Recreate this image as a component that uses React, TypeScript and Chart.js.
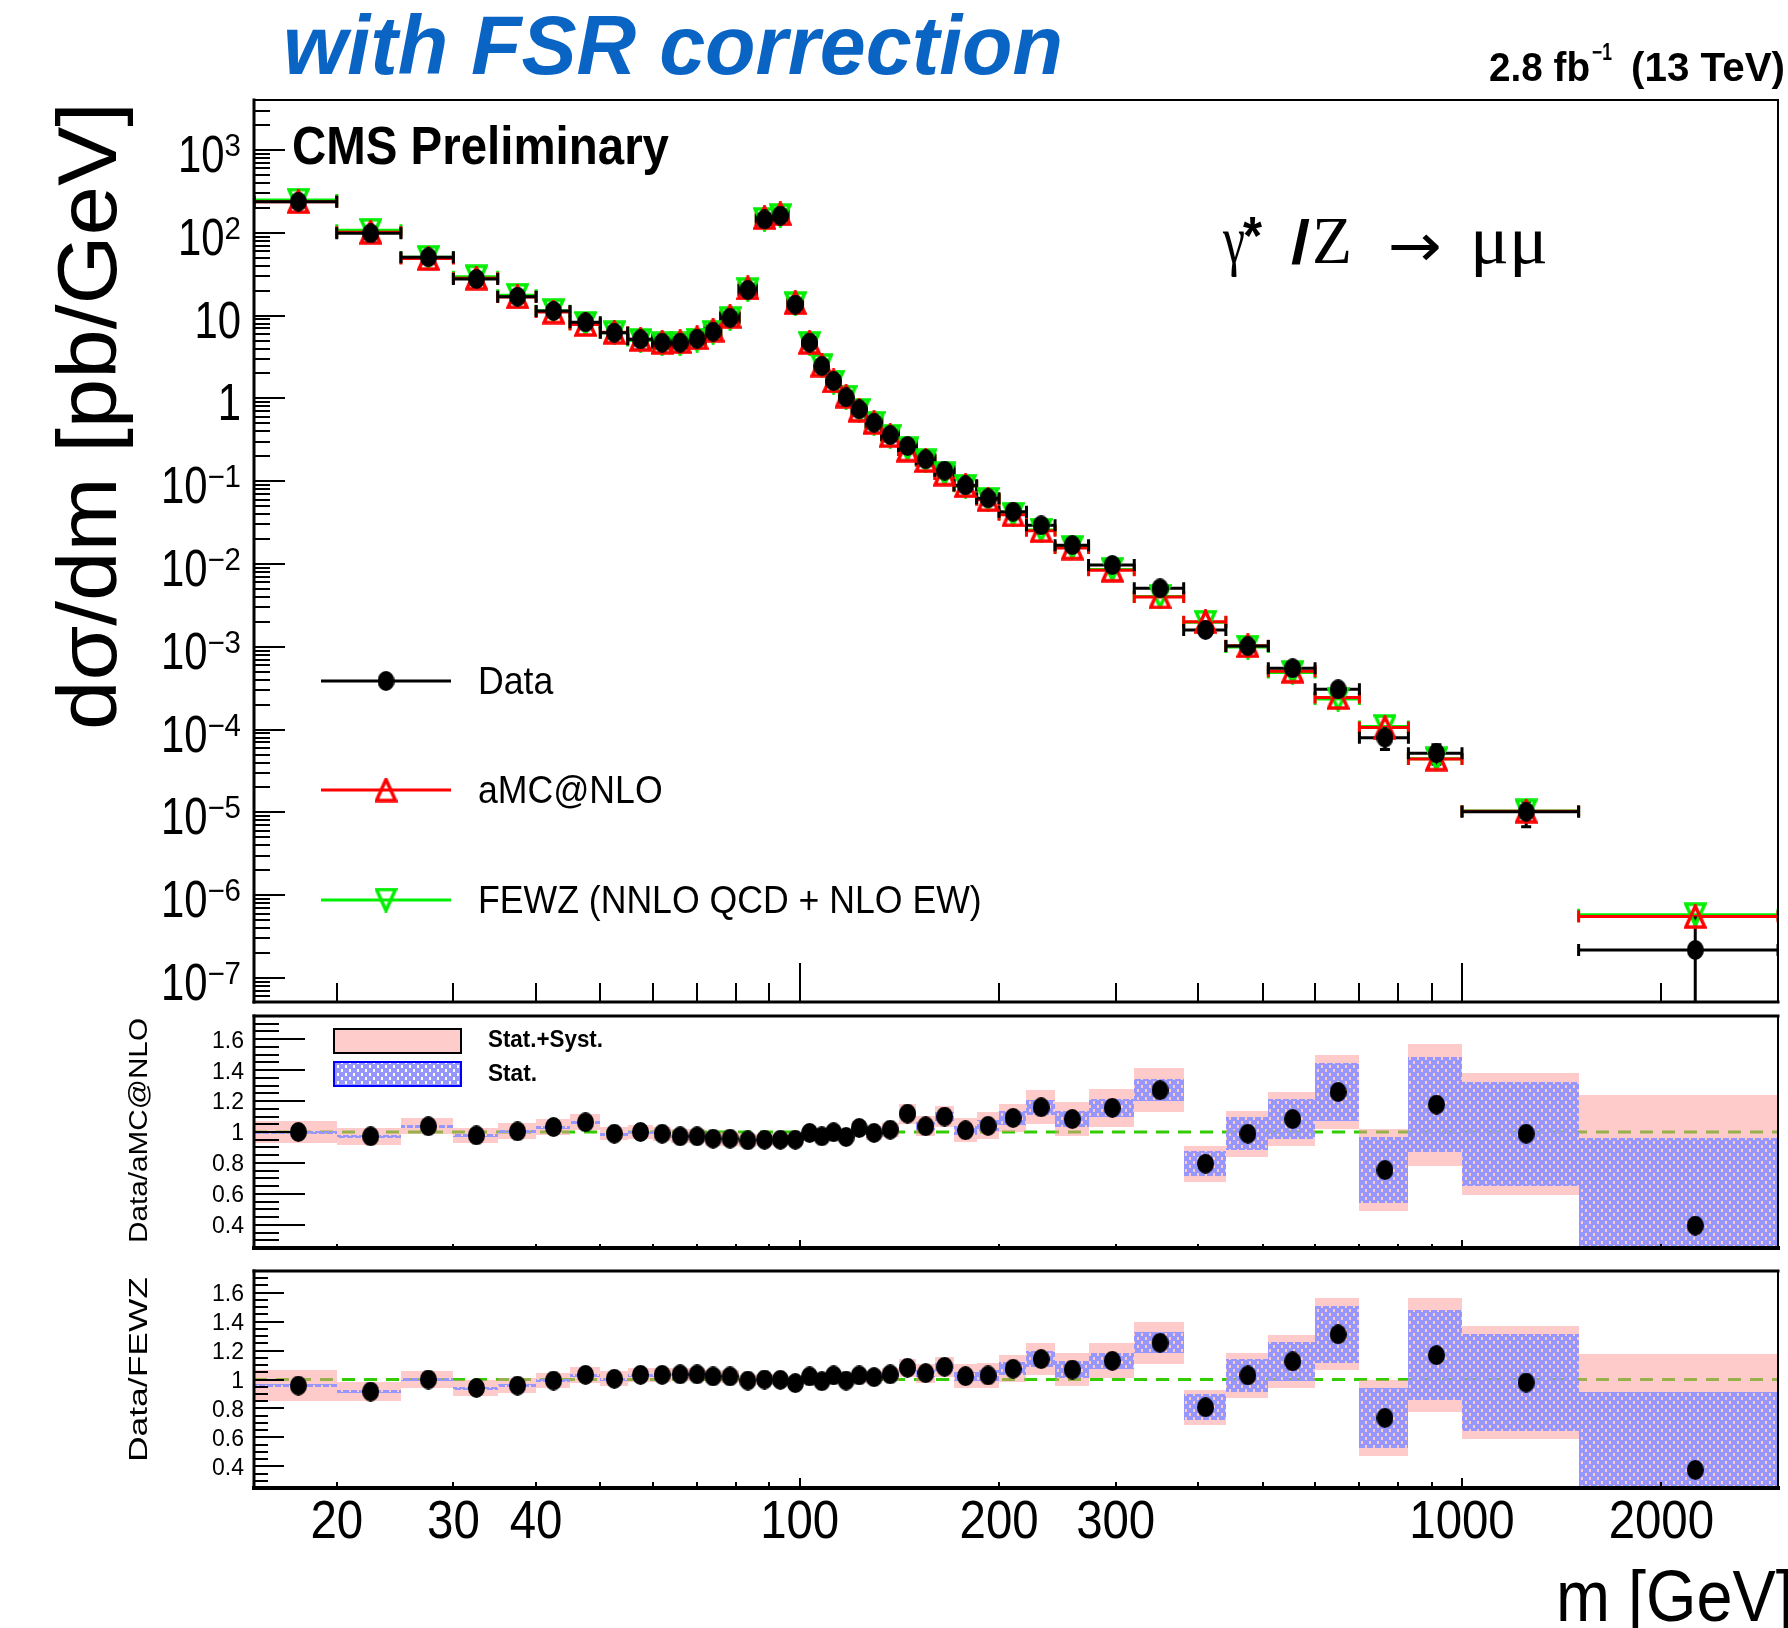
import React, { useEffect, useRef } from "react";
import { Chart, registerables } from "chart.js";

Chart.register(...registerables);

// ---------------- data ----------------
const binEdges = [15, 20, 25, 30, 35, 40, 45, 50, 55, 60, 64, 68, 72, 76, 81, 86, 91, 96, 101, 106, 110, 115, 120, 126, 133, 141, 150, 160, 171, 185, 200, 220, 243, 273, 320, 380, 440, 510, 600, 700, 830, 1000, 1500, 3000];

// measured dsigma/dm [pb/GeV]
const crossSection = [238, 98.6, 50.6, 27.7, 16.9, 11.4, 8.3, 6.22, 5.17, 4.71, 4.71, 5.25, 6.4, 9.4, 20.4, 145, 161, 13.6, 4.73, 2.46, 1.62, 1.03, 0.738, 0.509, 0.361, 0.266, 0.184, 0.134, 0.0891, 0.0621, 0.0428, 0.0293, 0.0169, 0.00972, 0.00508, 0.0016, 0.00102, 0.00055, 0.000307, 8.0e-5, 5.18e-5, 1.02e-5, 2.18e-7];

// Data / aMC@NLO
const ratioAmcNlo = [1.0, 0.972, 1.037, 0.978, 1.004, 1.032, 1.063, 0.989, 1.0, 0.989, 0.972, 0.972, 0.957, 0.957, 0.946, 0.95, 0.95, 0.95, 0.994, 0.972, 0.998, 0.968, 1.026, 0.994, 1.015, 1.119, 1.037, 1.1, 1.011, 1.04, 1.091, 1.16, 1.084, 1.156, 1.27, 0.795, 0.989, 1.084, 1.259, 0.754, 1.177, 0.989, 0.395];
const totUncAmcNlo = [0.07, 0.054, 0.052, 0.051, 0.052, 0.052, 0.052, 0.043, 0.045, 0.045, 0.045, 0.045, 0.045, 0.045, 0.04, 0.04, 0.04, 0.04, 0.04, 0.04, 0.04, 0.04, 0.045, 0.045, 0.045, 0.065, 0.065, 0.07, 0.077, 0.087, 0.093, 0.11, 0.112, 0.125, 0.142, 0.116, 0.148, 0.174, 0.239, 0.268, 0.395, 0.395, 0.841];
const statUncAmcNlo = [0.008, 0.008, 0.008, 0.008, 0.008, 0.008, 0.008, 0.006, 0.005, 0.005, 0.005, 0.005, 0.005, 0.005, 0.005, 0.005, 0.005, 0.005, 0.005, 0.005, 0.005, 0.005, 0.012, 0.014, 0.016, 0.025, 0.025, 0.028, 0.03, 0.035, 0.043, 0.049, 0.054, 0.056, 0.07, 0.081, 0.106, 0.128, 0.186, 0.212, 0.309, 0.337, 0.566];

// Data / FEWZ
const ratioFewz = [0.958, 0.917, 1.0, 0.942, 0.958, 0.993, 1.032, 1.005, 1.032, 1.032, 1.035, 1.035, 1.021, 1.021, 0.993, 1.0, 0.998, 0.975, 1.021, 0.988, 1.028, 0.993, 1.028, 1.016, 1.035, 1.081, 1.044, 1.088, 1.023, 1.028, 1.074, 1.141, 1.069, 1.129, 1.254, 0.808, 1.028, 1.125, 1.312, 0.735, 1.168, 0.979, 0.375];
const totUncFewz = [0.11, 0.069, 0.061, 0.054, 0.052, 0.052, 0.053, 0.052, 0.046, 0.046, 0.046, 0.046, 0.046, 0.046, 0.04, 0.04, 0.04, 0.04, 0.04, 0.04, 0.04, 0.04, 0.045, 0.045, 0.045, 0.063, 0.065, 0.07, 0.082, 0.084, 0.092, 0.111, 0.112, 0.122, 0.144, 0.121, 0.155, 0.182, 0.248, 0.262, 0.393, 0.393, 0.798];
const statUncFewz = [0.008, 0.008, 0.008, 0.008, 0.008, 0.008, 0.008, 0.006, 0.005, 0.005, 0.005, 0.005, 0.005, 0.005, 0.005, 0.005, 0.005, 0.005, 0.005, 0.005, 0.005, 0.005, 0.012, 0.014, 0.016, 0.025, 0.025, 0.028, 0.03, 0.035, 0.045, 0.055, 0.058, 0.054, 0.072, 0.09, 0.112, 0.135, 0.197, 0.208, 0.309, 0.335, 0.537];

const xTickLabels = [20, 30, 40, 100, 200, 300, 1000, 2000];
const mainYExponents = [-7, -6, -5, -4, -3, -2, -1, 0, 1, 2, 3];
const ratioYTickLabels = [0.4, 0.6, 0.8, 1, 1.2, 1.4, 1.6];
const legendEntries = ["Data", "aMC@NLO", "FEWZ (NNLO QCD + NLO EW)"];

// derived
const binCenters = binEdges.slice(0, -1).map((lo, i) => (lo + binEdges[i + 1]) / 2);
const amcXsec = crossSection.map((v, i) => v / ratioAmcNlo[i]);
const fewzXsec = crossSection.map((v, i) => v / ratioFewz[i]);
const dataRelStat = statUncAmcNlo.map((s, i) => s / ratioAmcNlo[i]);

// ---------------- layout ----------------
const W = 1788;
const H = 1628;
const X_MIN = 15;
const X_MAX = 3000;
const PLOT_LEFT = 254;
const PLOT_RIGHT = 1786;
const MAIN = { top: 100, bottom: 1002, yMin: 5.13e-8, yMax: 4018 };
const R1 = { top: 1016, bottom: 1248, yMin: 0.25, yMax: 1.75 };
const R2 = { top: 1271, bottom: 1488, yMin: 0.25, yMax: 1.75 };

const SANS = '"Liberation Sans", Arial, Helvetica, sans-serif';
const SERIF = '"Liberation Serif", "Times New Roman", serif';
const GREEN = "#00ee00";
const RED = "#ff0000";

type TxtOpt = {
  size: number;
  bold?: boolean;
  italic?: boolean;
  family?: string;
  color?: string;
  align?: "left" | "right" | "center";
  sx?: number;
  width?: number;
  rot?: number;
};

function txt(ctx: CanvasRenderingContext2D, s: string, x: number, y: number, o: TxtOpt) {
  ctx.save();
  ctx.font = `${o.italic ? "italic " : ""}${o.bold ? "bold " : ""}${o.size}px ${o.family || SANS}`;
  ctx.fillStyle = o.color || "#000";
  ctx.textBaseline = "alphabetic";
  ctx.textAlign = "left";
  const w = ctx.measureText(s).width;
  const sx = o.width ? o.width / w : o.sx ?? 1;
  ctx.translate(x, y);
  if (o.rot) ctx.rotate(o.rot);
  ctx.scale(sx, 1);
  let dx = 0;
  if (o.align === "right") dx = -w;
  else if (o.align === "center") dx = -w / 2;
  ctx.fillText(s, dx, 0);
  ctx.restore();
  return w * sx;
}

function textWidth(ctx: CanvasRenderingContext2D, s: string, size: number, sx: number, bold = false) {
  ctx.save();
  ctx.font = `${bold ? "bold " : ""}${size}px ${SANS}`;
  const w = ctx.measureText(s).width * sx;
  ctx.restore();
  return w;
}

function makeEllipse(w: number, h: number, color: string) {
  const c = document.createElement("canvas");
  c.width = w;
  c.height = h;
  const g = c.getContext("2d")!;
  g.fillStyle = color;
  g.beginPath();
  g.ellipse(w / 2, h / 2, w / 2, h / 2, 0, 0, Math.PI * 2);
  g.fill();
  return c;
}

function makeTriangle(w: number, h: number, color: string, up: boolean) {
  const c = document.createElement("canvas");
  c.width = w + 4;
  c.height = h + 4;
  const g = c.getContext("2d")!;
  g.strokeStyle = color;
  g.lineWidth = 3.5;
  g.beginPath();
  if (up) {
    g.moveTo(2 + w / 2, 2);
    g.lineTo(2 + w, 2 + h);
    g.lineTo(2, 2 + h);
  } else {
    g.moveTo(2, 2);
    g.lineTo(2 + w, 2);
    g.lineTo(2 + w / 2, 2 + h);
  }
  g.closePath();
  g.stroke();
  return c;
}

function makeStatTile() {
  const c = document.createElement("canvas");
  c.width = 8;
  c.height = 8;
  const g = c.getContext("2d")!;
  g.fillStyle = "rgb(150,150,255)";
  g.fillRect(0, 0, 8, 8);
  g.clearRect(1, 1, 2, 3);
  g.clearRect(5, 5, 2, 3);
  return c;
}

function clipArea(ctx: CanvasRenderingContext2D, a: any) {
  ctx.beginPath();
  ctx.rect(a.left, a.top, a.right - a.left, a.bottom - a.top);
  ctx.clip();
}

function drawFrame(ctx: CanvasRenderingContext2D, a: any, lwLeft: number, lwBottom: number, lwTop: number, lwRight: number) {
  ctx.save();
  ctx.strokeStyle = "#000";
  ctx.lineCap = "square";
  const seg = (x0: number, y0: number, x1: number, y1: number, lw: number) => {
    ctx.lineWidth = lw;
    ctx.beginPath();
    ctx.moveTo(x0, y0);
    ctx.lineTo(x1, y1);
    ctx.stroke();
  };
  seg(a.left, a.top, a.right, a.top, lwTop);
  seg(a.right, a.top, a.right, a.bottom, lwRight);
  seg(a.left, a.bottom, a.right, a.bottom, lwBottom);
  seg(a.left, a.top, a.left, a.bottom, lwLeft);
  ctx.restore();
}

function drawXTicks(ctx: CanvasRenderingContext2D, a: any, x: any, majorLen: number, minorLen: number) {
  ctx.save();
  ctx.strokeStyle = "#000";
  ctx.lineWidth = 2;
  for (let e = 1; e <= 3; e++) {
    for (let k = 1; k <= 9; k++) {
      const v = k * Math.pow(10, e);
      if (v <= X_MIN || v >= X_MAX) continue;
      const px = Math.round(x.getPixelForValue(v));
      const len = k === 1 ? majorLen : minorLen;
      ctx.beginPath();
      ctx.moveTo(px, a.bottom);
      ctx.lineTo(px, a.bottom - len);
      ctx.stroke();
    }
  }
  ctx.restore();
}

// ---------------- main panel ----------------
function mainPlugin(dot: HTMLCanvasElement, triUp: HTMLCanvasElement, triDown: HTMLCanvasElement) {
  return {
    id: "mainDecor",
    beforeDatasetsDraw(chart: any) {
      const { ctx, chartArea: a, scales } = chart;
      const x = scales.x;
      const y = scales.y;
      ctx.save();
      clipArea(ctx, a);
      ctx.lineWidth = 3;
      const series: [number[], string][] = [
        [fewzXsec, GREEN],
        [amcXsec, RED],
        [crossSection, "#000"],
      ];
      for (const [vals, col] of series) {
        ctx.strokeStyle = col;
        vals.forEach((v, i) => {
          const x0 = x.getPixelForValue(binEdges[i]);
          const x1 = x.getPixelForValue(binEdges[i + 1]);
          const py = y.getPixelForValue(v);
          ctx.beginPath();
          ctx.moveTo(x0, py);
          ctx.lineTo(x1, py);
          ctx.moveTo(x0, py - 6);
          ctx.lineTo(x0, py + 6);
          ctx.moveTo(x1, py - 6);
          ctx.lineTo(x1, py + 6);
          ctx.stroke();
        });
      }
      ctx.strokeStyle = "#000";
      crossSection.forEach((v, i) => {
        const r = dataRelStat[i];
        const px = x.getPixelForValue(binCenters[i]);
        const yt = y.getPixelForValue(v * (1 + r));
        const lo = v * (1 - r);
        const yb = lo > 0 ? y.getPixelForValue(lo) : a.bottom + 20;
        ctx.beginPath();
        ctx.moveTo(px, yt);
        ctx.lineTo(px, yb);
        ctx.moveTo(px - 5, yt);
        ctx.lineTo(px + 5, yt);
        ctx.moveTo(px - 5, yb);
        ctx.lineTo(px + 5, yb);
        ctx.stroke();
      });
      ctx.restore();
    },
    afterDraw(chart: any) {
      const { ctx, chartArea: a, scales } = chart;
      const x = scales.x;
      const y = scales.y;
      drawFrame(ctx, a, 3, 3, 2, 2);
      drawXTicks(ctx, a, x, 39, 19);
      // y ticks
      ctx.save();
      ctx.strokeStyle = "#000";
      ctx.lineWidth = 2;
      for (let e = -8; e <= 3; e++) {
        for (let k = 1; k <= 9; k++) {
          const v = k * Math.pow(10, e);
          if (v < MAIN.yMin || v > MAIN.yMax) continue;
          const py = Math.round(y.getPixelForValue(v));
          ctx.beginPath();
          ctx.moveTo(a.left, py);
          ctx.lineTo(a.left + (k === 1 ? 31 : 16), py);
          ctx.stroke();
        }
      }
      ctx.restore();
      // y labels
      const labRight = 241;
      for (const e of mainYExponents) {
        const py = y.getPixelForValue(Math.pow(10, e));
        if (e === 0) {
          txt(ctx, "1", labRight, py + 22, { size: 51, sx: 0.82, align: "right" });
        } else if (e === 1) {
          txt(ctx, "10", labRight, py + 22, { size: 51, sx: 0.82, align: "right" });
        } else {
          const sup = e < 0 ? "\u2212" + String(-e) : String(e);
          const sw = textWidth(ctx, sup, 31, 0.95);
          txt(ctx, sup, labRight, py + 6, { size: 31, sx: 0.95, align: "right" });
          txt(ctx, "10", labRight - sw, py + 22, { size: 51, sx: 0.82, align: "right" });
        }
      }
      // y title
      txt(ctx, "d\u03c3/dm [pb/GeV]", 116, 730, { size: 84, rot: -Math.PI / 2, width: 628 });
      // header texts
      txt(ctx, "with FSR correction", 283, 74, { size: 84, bold: true, italic: true, color: "#0a64c4", width: 780 });
      txt(ctx, "2.8 fb", 1489, 81, { size: 40, bold: true, width: 101 });
      txt(ctx, "\u22121", 1592, 60, { size: 23, bold: true, width: 20 });
      txt(ctx, "(13 TeV)", 1631, 81, { size: 40, bold: true, width: 154 });
      txt(ctx, "CMS Preliminary", 292, 164, { size: 54.5, bold: true, width: 377 });
      // process label
      txt(ctx, "\u03b3", 1223, 263, { size: 68, family: SERIF, width: 22 });
      txt(ctx, "*", 1243, 254, { size: 54, bold: true, width: 19 });
      txt(ctx, "/", 1291, 263, { size: 62, bold: true, width: 19 });
      txt(ctx, "Z", 1312, 263, { size: 68, family: SERIF, width: 40 });
      txt(ctx, "\u2192", 1388, 266, { size: 60, family: '"DejaVu Sans", sans-serif', width: 54 });
      txt(ctx, "\u03bc\u03bc", 1470, 263, { size: 68, family: SERIF, width: 78 });
      // legend
      const rows = [681, 790, 900];
      const marks = [dot, triUp, triDown];
      const cols = ["#000", RED, GREEN];
      rows.forEach((ry, i) => {
        ctx.save();
        ctx.strokeStyle = cols[i];
        ctx.lineWidth = 3;
        ctx.beginPath();
        ctx.moveTo(321, ry);
        ctx.lineTo(451, ry);
        ctx.stroke();
        ctx.restore();
        const m = marks[i];
        ctx.drawImage(m, 386 - m.width / 2, ry - m.height / 2);
        txt(ctx, legendEntries[i], 478, ry + 13, { size: 39.6, sx: 0.9 });
      });
    },
  };
}

// ---------------- ratio panels ----------------
type RatioCfg = {
  panel: { top: number; bottom: number; yMin: number; yMax: number };
  ratio: number[];
  tot: number[];
  stat: number[];
  title: string;
  titleStart: number;
  titleLen: number;
  legend: boolean;
  yMajor: number;
  yMinor: number;
  xMajor: number;
  xMinor: number;
  xLabels: boolean;
};

function ratioPlugin(cfg: RatioCfg, tile: HTMLCanvasElement) {
  return {
    id: "ratioDecor",
    beforeDatasetsDraw(chart: any) {
      const { ctx, chartArea: a, scales } = chart;
      const x = scales.x;
      const y = scales.y;
      ctx.save();
      clipArea(ctx, a);
      const y1 = y.getPixelForValue(1);
      ctx.strokeStyle = "#33cc00";
      ctx.lineWidth = 3;
      ctx.setLineDash([13, 9]);
      ctx.beginPath();
      ctx.moveTo(a.left, y1);
      ctx.lineTo(a.right, y1);
      ctx.stroke();
      ctx.setLineDash([]);
      ctx.fillStyle = "rgba(255,150,150,0.5)";
      cfg.ratio.forEach((r, i) => {
        const x0 = Math.round(x.getPixelForValue(binEdges[i]));
        const x1 = Math.round(x.getPixelForValue(binEdges[i + 1]));
        const yt = Math.round(y.getPixelForValue(r + cfg.tot[i]));
        const yb = Math.round(y.getPixelForValue(r - cfg.tot[i]));
        ctx.fillRect(x0, yt, x1 - x0, yb - yt);
      });
      const pat = ctx.createPattern(tile, "repeat");
      if (pat) ctx.fillStyle = pat;
      cfg.ratio.forEach((r, i) => {
        const x0 = Math.round(x.getPixelForValue(binEdges[i]));
        const x1 = Math.round(x.getPixelForValue(binEdges[i + 1]));
        let yt = Math.round(y.getPixelForValue(r + cfg.stat[i]));
        let yb = Math.round(y.getPixelForValue(r - cfg.stat[i]));
        if (yb - yt < 3) {
          const c = (yt + yb) / 2;
          yt = Math.round(c - 1.5);
          yb = yt + 3;
        }
        ctx.fillRect(x0, yt, x1 - x0, yb - yt);
      });
      ctx.restore();
    },
    afterDraw(chart: any) {
      const { ctx, chartArea: a, scales } = chart;
      const x = scales.x;
      const y = scales.y;
      drawFrame(ctx, a, 3, 4, 3, 2);
      drawXTicks(ctx, a, x, cfg.xMajor, cfg.xMinor);
      ctx.save();
      ctx.strokeStyle = "#000";
      ctx.lineWidth = 2;
      for (let i = 5; i <= 35; i++) {
        const v = i * 0.05;
        if (v < cfg.panel.yMin - 1e-9 || v > cfg.panel.yMax + 1e-9) continue;
        const major = i % 4 === 0;
        const py = Math.round(y.getPixelForValue(v));
        ctx.beginPath();
        ctx.moveTo(a.left, py);
        ctx.lineTo(a.left + (major ? cfg.yMajor : cfg.yMinor), py);
        ctx.stroke();
      }
      ctx.restore();
      for (const v of ratioYTickLabels) {
        const py = y.getPixelForValue(v);
        txt(ctx, String(v), 244, py + 8.4, { size: 23, align: "right" });
      }
      txt(ctx, cfg.title, 147, cfg.titleStart, { size: 26, rot: -Math.PI / 2, width: cfg.titleLen });
      if (cfg.legend) {
        ctx.save();
        ctx.fillStyle = "rgb(255,204,204)";
        ctx.fillRect(334, 1029, 127, 24);
        ctx.strokeStyle = "#000";
        ctx.lineWidth = 2;
        ctx.strokeRect(334, 1029, 127, 24);
        const pat = ctx.createPattern(tile, "repeat");
        if (pat) ctx.fillStyle = pat;
        ctx.fillRect(334, 1062, 127, 24);
        ctx.strokeStyle = "#0000ff";
        ctx.strokeRect(334, 1062, 127, 24);
        ctx.restore();
        txt(ctx, "Stat.+Syst.", 488, 1047, { size: 23, bold: true, width: 115 });
        txt(ctx, "Stat.", 488, 1081, { size: 23, bold: true, width: 49 });
      }
      if (cfg.xLabels) {
        for (const v of xTickLabels) {
          txt(ctx, String(v), x.getPixelForValue(v), 1538, { size: 54.5, sx: 0.87, align: "center" });
        }
        txt(ctx, "m [GeV]", 1556, 1621, { size: 72, sx: 0.9 });
      }
    },
  };
}

function baseOptions(panel: { top: number; bottom: number; yMin: number; yMax: number }, logY: boolean) {
  return {
    responsive: false,
    animation: false as const,
    devicePixelRatio: 1,
    events: [] as any[],
    layout: { padding: { left: PLOT_LEFT, right: W - PLOT_RIGHT, top: panel.top, bottom: H - panel.bottom } },
    plugins: { legend: { display: false }, tooltip: { enabled: false } },
    scales: {
      x: {
        type: "logarithmic" as const,
        min: X_MIN,
        max: X_MAX,
        display: false,
        afterBuildTicks: (s: any) => {
          s.min = X_MIN;
          s.max = X_MAX;
        },
      },
      y: {
        type: (logY ? "logarithmic" : "linear") as any,
        min: panel.yMin,
        max: panel.yMax,
        display: false,
        afterBuildTicks: (s: any) => {
          s.min = panel.yMin;
          s.max = panel.yMax;
        },
      },
    },
  };
}

export default function App() {
  const mainRef = useRef<HTMLCanvasElement>(null);
  const r1Ref = useRef<HTMLCanvasElement>(null);
  const r2Ref = useRef<HTMLCanvasElement>(null);

  useEffect(() => {
    const dot = makeEllipse(17, 20, "#000");
    const triUp = makeTriangle(19, 21, RED, true);
    const triDown = makeTriangle(19, 21, GREEN, false);
    const tile = makeStatTile();

    const main = new Chart(mainRef.current!, {
      type: "scatter",
      data: {
        datasets: [
          { label: legendEntries[0], data: binCenters.map((x, i) => ({ x, y: crossSection[i] })), pointStyle: dot as any, pointRadius: 9 },
          { label: legendEntries[1], data: binCenters.map((x, i) => ({ x, y: amcXsec[i] })), pointStyle: triUp as any, pointRadius: 9 },
          { label: legendEntries[2], data: binCenters.map((x, i) => ({ x, y: fewzXsec[i] })), pointStyle: triDown as any, pointRadius: 9 },
        ],
      },
      options: baseOptions(MAIN, true) as any,
      plugins: [mainPlugin(dot, triUp, triDown)],
    });

    const r1cfg: RatioCfg = {
      panel: R1, ratio: ratioAmcNlo, tot: totUncAmcNlo, stat: statUncAmcNlo,
      title: "Data/aMC@NLO", titleStart: 1243, titleLen: 225, legend: true,
      yMajor: 51, yMinor: 25, xMajor: 8, xMinor: 4, xLabels: false,
    };
    const r2cfg: RatioCfg = {
      panel: R2, ratio: ratioFewz, tot: totUncFewz, stat: statUncFewz,
      title: "Data/FEWZ", titleStart: 1462, titleLen: 185, legend: false,
      yMajor: 30, yMinor: 14, xMajor: 10, xMinor: 6, xLabels: true,
    };

    const mk = (ref: HTMLCanvasElement, cfg: RatioCfg) =>
      new Chart(ref, {
        type: "scatter",
        data: {
          datasets: [
            { label: cfg.title, data: binCenters.map((x, i) => ({ x, y: cfg.ratio[i] })), pointStyle: dot as any, pointRadius: 9 },
          ],
        },
        options: baseOptions(cfg.panel, false) as any,
        plugins: [ratioPlugin(cfg, tile)],
      });

    const c1 = mk(r1Ref.current!, r1cfg);
    const c2 = mk(r2Ref.current!, r2cfg);
    return () => {
      main.destroy();
      c1.destroy();
      c2.destroy();
    };
  }, []);

  const cs: React.CSSProperties = { position: "absolute", left: 0, top: 0, width: W, height: H };
  return (
    <div style={{ position: "absolute", left: 0, top: 0, width: W, height: H, background: "#fff", overflow: "hidden" }}>
      <canvas ref={mainRef} width={W} height={H} style={cs} />
      <canvas ref={r1Ref} width={W} height={H} style={cs} />
      <canvas ref={r2Ref} width={W} height={H} style={cs} />
    </div>
  );
}
